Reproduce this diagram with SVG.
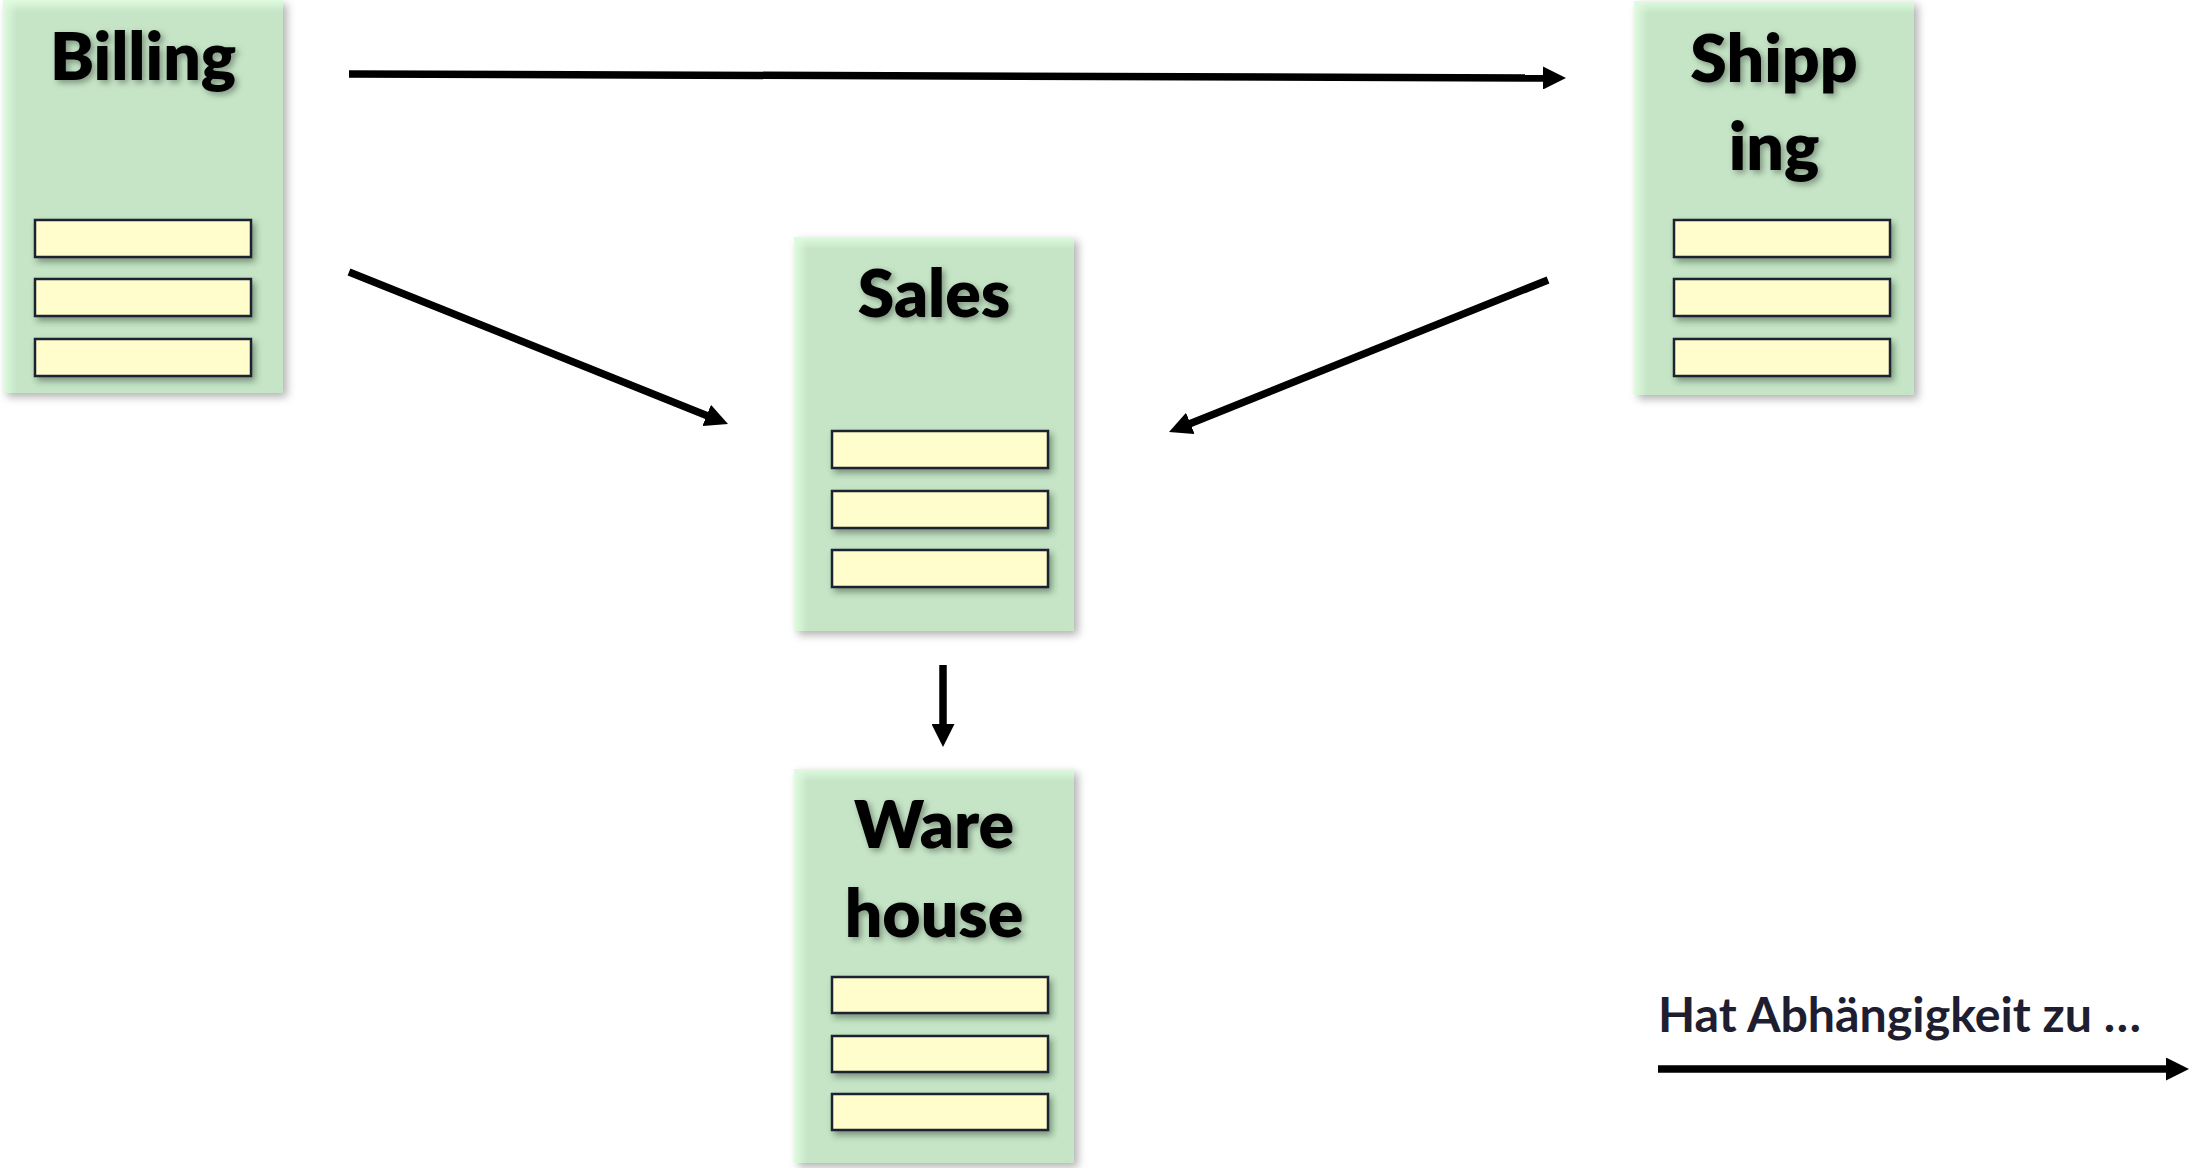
<svg xmlns="http://www.w3.org/2000/svg" width="2192" height="1168" viewBox="0 0 2192 1168">
  <style>
    .box { fill: #c5e5c6; }
    .edge-h { fill: url(#edgeH); }
    .edge-v { fill: url(#edgeV); }
    .row { fill: #fffdcc; stroke: #1f2433; stroke-width: 2.5; }
    .title { font-family: Lato, "Open Sans", "Liberation Sans", sans-serif; font-weight: 800; font-size: 66px; fill: #000; text-anchor: middle; }
    .legend { font-family: Lato, "Open Sans", "Liberation Sans", sans-serif; font-weight: 700; font-size: 47px; fill: #1e1e30; }
    .conn { stroke: #000; stroke-width: 7.5; fill: none; marker-end: url(#head); }
  </style>
  <defs>
    <linearGradient id="edgeH" x1="0" y1="0" x2="1" y2="0">
      <stop offset="0" stop-color="#e0fbe0" stop-opacity="1"/>
      <stop offset="0.05" stop-color="#e0fbe0" stop-opacity="0"/>
      <stop offset="1" stop-color="#e0fbe0" stop-opacity="0"/>
    </linearGradient>
    <linearGradient id="edgeV" x1="0" y1="0" x2="0" y2="1">
      <stop offset="0" stop-color="#e0fbe0" stop-opacity="1"/>
      <stop offset="0.03" stop-color="#e0fbe0" stop-opacity="0"/>
      <stop offset="1" stop-color="#e0fbe0" stop-opacity="0"/>
    </linearGradient>
    <filter id="boxShadow" x="-10%" y="-10%" width="125%" height="125%">
      <feDropShadow dx="4" dy="4" stdDeviation="4" flood-color="#000" flood-opacity="0.3"/>
    </filter>
    <filter id="rowShadow" x="-10%" y="-30%" width="125%" height="190%">
      <feDropShadow dx="3" dy="4" stdDeviation="3" flood-color="#203020" flood-opacity="0.45"/>
    </filter>
    <filter id="textShadow" x="-10%" y="-20%" width="130%" height="150%">
      <feDropShadow dx="3" dy="3" stdDeviation="3" flood-color="#000" flood-opacity="0.35"/>
    </filter>
    <marker id="head" viewBox="0 0 23 23" refX="12" refY="11.5" markerWidth="23" markerHeight="23" markerUnits="userSpaceOnUse" orient="auto">
      <path d="M0,0 L23,11.5 L0,23 Z" fill="#000"/>
    </marker>
  </defs>

  <!-- dependency arrows -->
  <g id="connectors">
    <line class="conn" x1="349" y1="74" x2="1555" y2="78"/>
    <line class="conn" x1="349" y1="272" x2="717.8" y2="419.9"/>
    <line class="conn" x1="1548" y1="280" x2="1179.2" y2="427.9"/>
    <line class="conn" x1="943" y1="665" x2="943" y2="736"/>
  </g>

  <!-- Billing context -->
  <g id="billing">
    <g filter="url(#boxShadow)"><rect class="box" x="3" y="0" width="280" height="393"/></g>
    <rect class="edge-h" x="3" y="0" width="280" height="393"/>
    <rect class="edge-v" x="3" y="0" width="280" height="393"/>
    <text class="title" x="143" y="80" filter="url(#textShadow)">Billing</text>
    <g filter="url(#rowShadow)">
      <rect class="row" x="35" y="220" width="216" height="37"/>
      <rect class="row" x="35" y="279" width="216" height="37"/>
      <rect class="row" x="35" y="339" width="216" height="37"/>
    </g>
  </g>

  <!-- Shipping context -->
  <g id="shipping">
    <g filter="url(#boxShadow)"><rect class="box" x="1634" y="1" width="280" height="394"/></g>
    <rect class="edge-h" x="1634" y="1" width="280" height="394"/>
    <rect class="edge-v" x="1634" y="1" width="280" height="394"/>
    <text class="title" x="1774" y="82" filter="url(#textShadow)">Shipp</text>
    <text class="title" x="1774" y="170" filter="url(#textShadow)">ing</text>
    <g filter="url(#rowShadow)">
      <rect class="row" x="1674" y="220" width="216" height="37"/>
      <rect class="row" x="1674" y="279" width="216" height="37"/>
      <rect class="row" x="1674" y="339" width="216" height="37"/>
    </g>
  </g>

  <!-- Sales context -->
  <g id="sales">
    <g filter="url(#boxShadow)"><rect class="box" x="794" y="237" width="280" height="394"/></g>
    <rect class="edge-h" x="794" y="237" width="280" height="394"/>
    <rect class="edge-v" x="794" y="237" width="280" height="394"/>
    <text class="title" x="934" y="317" filter="url(#textShadow)">Sales</text>
    <g filter="url(#rowShadow)">
      <rect class="row" x="832" y="431" width="216" height="37"/>
      <rect class="row" x="832" y="491" width="216" height="37"/>
      <rect class="row" x="832" y="550" width="216" height="37"/>
    </g>
  </g>

  <!-- Warehouse context -->
  <g id="warehouse">
    <g filter="url(#boxShadow)"><rect class="box" x="794" y="769" width="280" height="394"/></g>
    <rect class="edge-h" x="794" y="769" width="280" height="394"/>
    <rect class="edge-v" x="794" y="769" width="280" height="394"/>
    <text class="title" x="934" y="848" filter="url(#textShadow)">Ware</text>
    <text class="title" x="934" y="937" filter="url(#textShadow)">house</text>
    <g filter="url(#rowShadow)">
      <rect class="row" x="832" y="977" width="216" height="36"/>
      <rect class="row" x="832" y="1036" width="216" height="36"/>
      <rect class="row" x="832" y="1094" width="216" height="36"/>
    </g>
  </g>

  <!-- legend -->
  <g id="legend">
    <text class="legend" x="1658" y="1032" textLength="483" lengthAdjust="spacingAndGlyphs">Hat Abhängigkeit zu …</text>
    <line class="conn" x1="1658" y1="1069" x2="2178" y2="1069"/>
  </g>
</svg>
